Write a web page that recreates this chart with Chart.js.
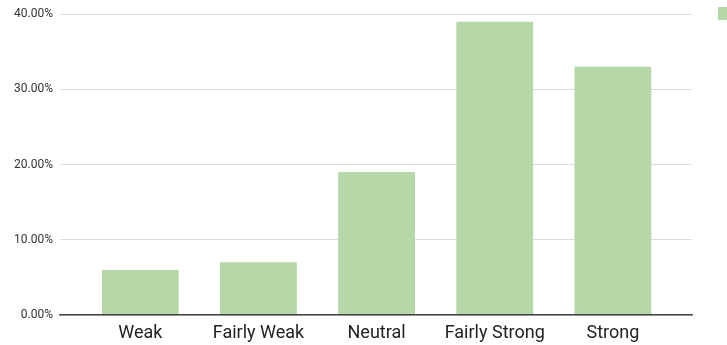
<!DOCTYPE html>
<html>
<head>
<meta charset="utf-8">
<script src="https://cdn.jsdelivr.net/npm/chart.js@4/dist/chart.umd.min.js"></script>
<style>
  html, body { margin: 0; padding: 0; background: #fff; overflow: hidden; }
  #wrap { width: 727px; height: 345px; position: relative; }
</style>
</head>
<body>
<div id="wrap"><canvas id="c"></canvas></div>
<script>
// Response categories and their share of answers (percent)
const categories = ['Weak', 'Fairly Weak', 'Neutral', 'Fairly Strong', 'Strong'];
const shares = [6, 7, 19, 39, 33];
const yTicks = [0, 10, 20, 30, 40];

const barColor = '#b6d7a8';

// Small legend swatch in the top-right corner
const swatch = {
  id: 'swatch',
  afterDraw(chart) {
    const ctx = chart.ctx;
    ctx.save();
    ctx.fillStyle = chart.data.datasets[0].backgroundColor;
    ctx.fillRect(chart.chartArea.right + 26, 7, 12, 13);
    ctx.restore();
  }
};

new Chart(document.getElementById('c'), {
  type: 'bar',
  data: {
    datasets: [{
      data: shares.map((v, i) => ({ x: i, y: v })),
      backgroundColor: barColor,
      borderWidth: 0,
      barPercentage: 0.65,
      categoryPercentage: 1
    }]
  },
  options: {
    responsive: true,
    maintainAspectRatio: false,
    animation: false,
    layout: { padding: { top: 13, right: 35, bottom: 0, left: 0 } },
    plugins: { legend: { display: false }, tooltip: { enabled: false } },
    scales: {
      x: {
        type: 'linear',
        offset: false,
        min: -0.68,
        max: 4.67,
        afterBuildTicks(scale) { scale.ticks = categories.map((_, i) => ({ value: i })); },
        afterFit(scale) { scale.height = 30; },
        grid: { display: false, drawTicks: false },
        border: { display: true, color: '#444', width: 1.6, z: 1 },
        ticks: {
          padding: 8,
          color: '#222',
          font: { family: 'Roboto', size: 18 },
          maxRotation: 0,
          autoSkip: false,
          callback: v => categories[v] ?? ''
        }
      },
      y: {
        min: 0,
        max: 40,
        afterBuildTicks(scale) { scale.ticks = yTicks.map(v => ({ value: v })); },
        afterFit(scale) { scale.width = 60; },
        grid: { color: '#dcdcdc', lineWidth: 1, drawTicks: false },
        border: { display: false },
        ticks: {
          padding: 7,
          color: '#333',
          font: { family: 'Roboto', size: 12 },
          callback: v => v.toFixed(2) + '%'
        }
      }
    }
  },
  plugins: [swatch]
});
</script>
</body>
</html>
